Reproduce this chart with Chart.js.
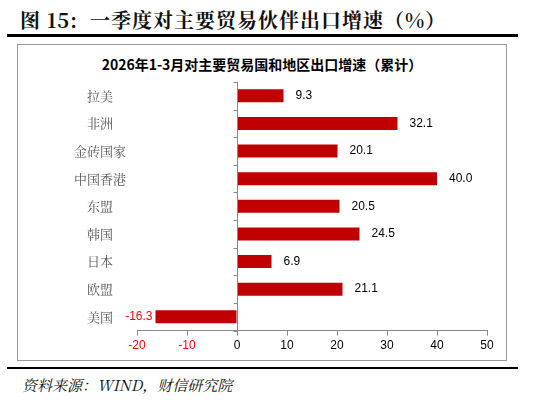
<!DOCTYPE html>
<html><head><meta charset="utf-8">
<script src="https://cdn.jsdelivr.net/npm/chart.js@4"></script>
<style>
body{margin:0;width:550px;height:405px;position:relative;background:#fff;overflow:hidden}
#t{position:absolute;left:20px;top:5px;font:bold 20px "Noto Serif CJK SC","Noto Sans CJK SC",serif;color:#111;letter-spacing:1px}
#l1{position:absolute;left:7px;top:34px;width:511px;height:3px;background:#000}
#box{position:absolute;left:17px;top:44px;width:488px;height:315px;border:1.5px solid #999}
#ct{position:absolute;left:17px;width:490px;top:54px;text-align:center;font:bold 14px "Noto Sans CJK SC",sans-serif;color:#000}
#l2{position:absolute;left:7px;top:367px;width:511px;height:2px;background:#000}
#src{position:absolute;left:22px;top:374px;font:italic 15px "Noto Serif CJK SC","Noto Sans CJK SC",serif;color:#111}
canvas{position:absolute;left:0;top:0}
</style></head><body>
<div id="t">图 15:&nbsp; 一季度对主要贸易伙伴出口增速（%）</div>
<div id="l1"></div><div id="box"></div>
<div id="ct">2026年1-3月对主要贸易国和地区出口增速（累计）</div>
<div id="l2"></div>
<div id="src">资料来源：WIND，财信研究院</div>
<div style="position:absolute;left:0;top:0;width:550px;height:405px"><canvas id="c"></canvas></div>
<script>
const categories=["拉美","非洲","金砖国家","中国香港","东盟","韩国","日本","欧盟","美国"];
const growth=[9.3,32.1,20.1,40.0,20.5,24.5,6.9,21.1,-16.3];
const xTicks=[-20,-10,0,10,20,30,40,50];
const labelPlugin={id:'lbl',afterDatasetsDraw(ch){
  const c=ch.ctx,x=ch.scales.x,y=ch.scales.y;
  c.save();
  c.strokeStyle='#888';c.lineWidth=1;
  const x0=Math.round(x.getPixelForValue(0))+0.5;
  c.beginPath();c.moveTo(x0,ch.chartArea.top);c.lineTo(x0,ch.chartArea.bottom);
  const step=(ch.chartArea.bottom-ch.chartArea.top)/categories.length;
  for(let i=0;i<=categories.length;i++){const yy=Math.round(ch.chartArea.top+i*step)+0.5;c.moveTo(x0-4,yy);c.lineTo(x0,yy);}
  c.stroke();
  c.font='12px "Liberation Sans",sans-serif';c.textBaseline='middle';
  ch.getDatasetMeta(0).data.forEach((b,i)=>{
    const v=growth[i];
    if(v>=0){c.fillStyle='#000';c.textAlign='left';c.fillText(v.toFixed(1),b.x+12,b.y);}
    else{c.fillStyle='#FF0000';c.textAlign='right';c.fillText(v.toFixed(1),b.x-3,b.y);}
  });
  c.restore();}};
new Chart(document.getElementById('c'),{type:'bar',
 data:{labels:categories,datasets:[{data:growth,backgroundColor:'#C00000',barPercentage:0.47,categoryPercentage:1}]},
 options:{indexAxis:'y',responsive:true,maintainAspectRatio:false,animation:false,
  layout:{padding:{left:70,right:63,top:82,bottom:49}},
  plugins:{legend:{display:false},tooltip:{enabled:false},title:{display:false}},
  scales:{
   x:{min:-20,max:50,afterBuildTicks(s){s.ticks=xTicks.map(v=>({value:v}));},
     grid:{drawOnChartArea:false,tickLength:5,color:'#888'},border:{color:'#888'},
     ticks:{color:c=>c.tick.value<0?'#FF0000':'#000',font:{size:12,family:'"Liberation Sans",sans-serif'},padding:3}},
   y:{afterFit(s){s.width=67;},grid:{display:false},border:{display:false},
     ticks:{crossAlign:'center',color:'#555',font:{size:13,family:'"Noto Serif CJK SC","Noto Sans CJK SC",serif'}}}
  }},
 plugins:[labelPlugin]});
</script></body></html>
